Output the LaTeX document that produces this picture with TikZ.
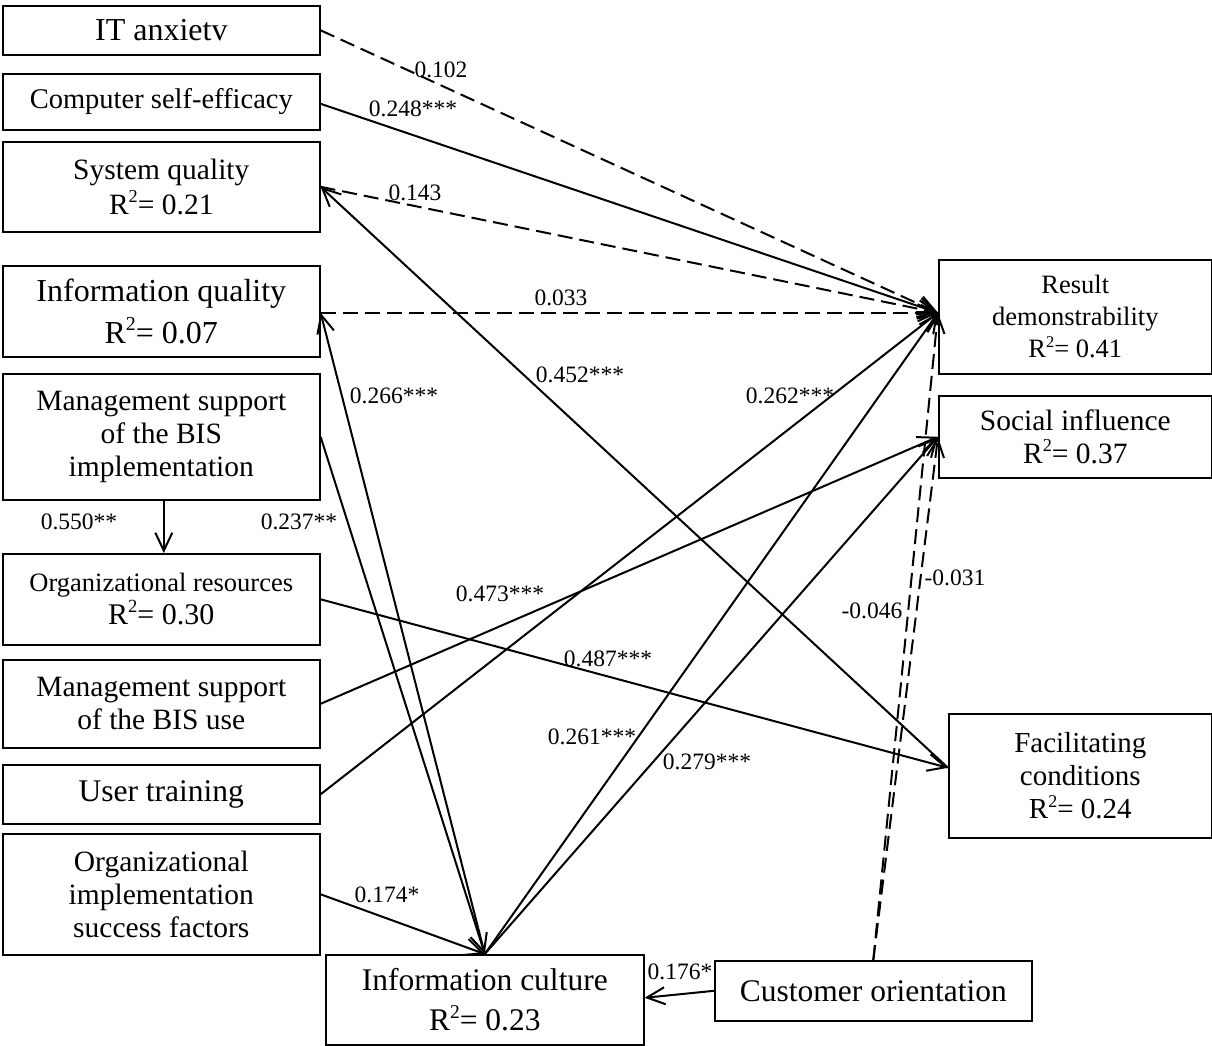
\documentclass[tikz,border=0pt]{standalone}
\usepackage{fontspec}
\setmainfont{Liberation Serif}
\usetikzlibrary{arrows.meta}
\newcommand{\rsq}{R\raisebox{0.4em}{\scalebox{0.62}{2}}}
\begin{document}
\begin{tikzpicture}[x=1pt,y=-1pt,
  box/.style={draw, line width=1.6pt, inner sep=0pt, anchor=north west, align=center},
  edge/.style={line width=2pt, -{Straight Barb[length=18pt,width=17pt,line width=2pt]}},
  dsh/.style={edge, dash pattern=on 15pt off 7pt},
  lbl/.style={inner sep=0pt, font=\fontsize{23.5}{27}\selectfont}]
\useasboundingbox (0,0) rectangle (1212,1046);
% left column
\node[box, minimum width=317pt, minimum height=49pt, font=\fontsize{32}{36}\selectfont] (itanx) at (2,5) {IT anxietv};
\node[box, minimum width=317pt, minimum height=56pt, font=\fontsize{28.5}{33}\selectfont] (cse) at (2,73) {Computer self-efficacy};
\node[box, minimum width=317pt, minimum height=90pt, font=\fontsize{29.5}{35}\selectfont] (sysq) at (2,141) {System quality\\\rsq= 0.21};
\node[box, minimum width=317pt, minimum height=91pt, font=\fontsize{32}{42}\selectfont] (infq) at (2,265) {Information quality\\\rsq= 0.07};
\node[box, minimum width=317pt, minimum height=126pt, font=\fontsize{29.5}{33}\selectfont] (msi) at (2,373) {Management support\\of the BIS\\implementation};
\node[box, minimum width=317pt, minimum height=91pt, font=\fontsize{30}{33}\selectfont] (orgres) at (2,553) {{\fontsize{26.5}{31}\selectfont Organizational resources}\\\rsq= 0.30};
\node[box, minimum width=317pt, minimum height=88pt, font=\fontsize{29.5}{33}\selectfont] (msu) at (2,659) {Management support\\of the BIS use};
\node[box, minimum width=317pt, minimum height=59pt, font=\fontsize{31.5}{36}\selectfont] (ut) at (2,764) {User training};
\node[box, minimum width=317pt, minimum height=121pt, font=\fontsize{29.5}{33}\selectfont] (oisf) at (2,833) {Organizational\\implementation\\success factors};
% bottom
\node[box, minimum width=318pt, minimum height=90pt, font=\fontsize{31.5}{40}\selectfont] (infc) at (325,954) {Information culture\\\rsq= 0.23};
\node[box, minimum width=317pt, minimum height=60pt, font=\fontsize{31.5}{36}\selectfont] (cust) at (714,960) {Customer orientation};
% right column
\node[box, minimum width=273pt, minimum height=114pt, font=\fontsize{26.5}{32}\selectfont] (resd) at (938,259) {Result\\demonstrability\\\rsq= 0.41};
\node[box, minimum width=273pt, minimum height=82pt, font=\fontsize{29.5}{33}\selectfont] (socin) at (938,395) {Social influence\\\rsq= 0.37};
\node[box, minimum width=263pt, minimum height=124pt, font=\fontsize{29}{33}\selectfont] (facc) at (948,713) {Facilitating\\conditions\\\rsq= 0.24};
% connectors
\draw[dsh] (itanx.east) -- ([yshift=4pt]resd.west);
\draw[edge] ([yshift=-2pt]cse.east) -- ([yshift=4pt]resd.west);
\draw[dsh] (sysq.east) -- ([yshift=4pt]resd.west);
\draw[dsh] ([yshift=-1.5pt]infq.east) -- ([yshift=4pt]resd.west);
\draw[edge] ([yshift=8pt]facc.west) -- (sysq.east);
\draw[edge] (infc.north) -- ([yshift=-1.5pt]infq.east);
\draw[edge] (msi.east) -- (infc.north);
\draw[edge] ([xshift=2.5pt]msi.south) -- ([xshift=2.5pt]orgres.north);
\draw[edge] (orgres.east) -- ([yshift=8pt]facc.west);
\draw[edge] (msu.east) -- (socin.west);
\draw[edge] (ut.east) -- ([yshift=4pt]resd.west);
\draw[edge] (infc.north) -- ([yshift=4pt]resd.west);
\draw[edge] (infc.north) -- (socin.west);
\draw[edge] (oisf.east) -- (infc.north);
\draw[edge] (cust.west) -- ([yshift=2pt]infc.east);
\draw[dsh] (cust.north) -- ([yshift=4pt]resd.west);
\draw[dsh] (cust.north) -- (socin.west);
% labels
\node[lbl] (l1) at (441,70) {0.102};
\node[lbl] (l2) at (413,109) {0.248***};
\node[lbl] (l3) at (415,193) {0.143};
\node[lbl] (l4) at (561,298) {0.033};
\node[lbl] (l5) at (580,375) {0.452***};
\node[lbl] (l6) at (394,396) {0.266***};
\node[lbl] (l7) at (790,396) {0.262***};
\node[lbl] (l8) at (299,522) {0.237**};
\node[lbl] (l9) at (79,522) {0.550**};
\node[lbl] (l10) at (500,594) {0.473***};
\node[lbl] (l11) at (608,659) {0.487***};
\node[lbl] (l12) at (592,737) {0.261***};
\node[lbl] (l13) at (707,762) {0.279***};
\node[lbl] (l14) at (387,895) {0.174*};
\node[lbl] (l15) at (680,972) {0.176*};
\node[lbl] (l16) at (955,578) {-0.031};
\node[lbl] (l17) at (872,611) {-0.046};
\end{tikzpicture}
\end{document}
